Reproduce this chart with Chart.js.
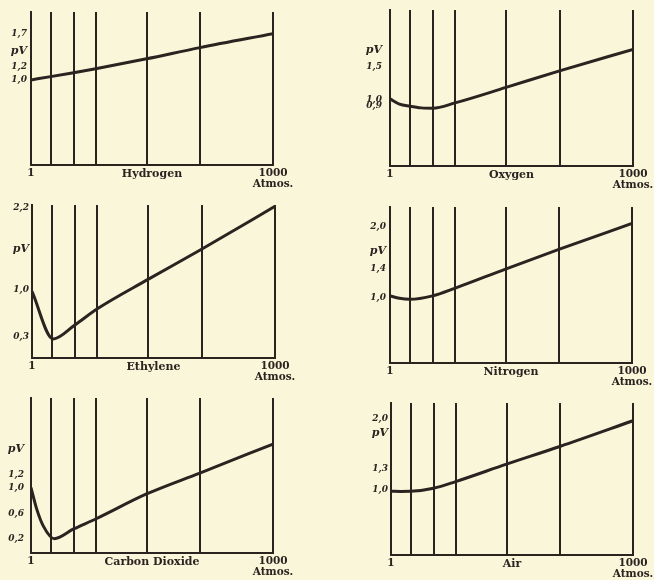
<!DOCTYPE html>
<html>
<head>
<meta charset="utf-8">
<script src="https://cdn.jsdelivr.net/npm/chart.js@4.4.1/dist/chart.umd.min.js"></script>
<style>
  body { margin: 0; background: #faf6da; width: 654px; height: 580px; overflow: hidden; position: relative; }
  canvas { position: absolute; }
</style>
</head>
<body>
<script>
// pressures (atm) where the vertical rules stand
const gridPressures = [1, 82, 177, 268, 478, 698, 1000];

const hydrogenP  = [1, 82, 177, 268, 478, 698, 1000];
const hydrogenPV = [1.00, 1.05, 1.11, 1.17, 1.32, 1.49, 1.70];
const hydrogenTicks = [1.0, 1.2, 1.7];

const oxygenP  = [1, 40, 82, 130, 177, 268, 478, 698, 1000];
const oxygenPV = [1.009, 0.929, 0.898, 0.873, 0.868, 0.948, 1.182, 1.433, 1.758];
const oxygenTicks = [0.9, 1.0, 1.5];

const ethyleneP  = [1, 88, 177, 268, 478, 698, 1000];
const ethylenePV = [0.97, 0.27, 0.475, 0.71, 1.146, 1.59, 2.22];
const ethyleneTicks = [0.3, 1.0, 2.2];

const nitrogenP  = [1, 40, 82, 177, 268, 478, 698, 1000];
const nitrogenPV = [1.02, 0.985, 0.97, 1.02, 1.127, 1.401, 1.68, 2.048];
const nitrogenTicks = [1.0, 1.4, 2.0];

const co2P  = [1, 25, 52, 97, 177, 268, 478, 698, 1000];
const co2PV = [1.00, 0.66, 0.40, 0.205, 0.356, 0.511, 0.90, 1.226, 1.677];
const co2Ticks = [0.2, 0.6, 1.0, 1.2];

const airP  = [1, 40, 82, 177, 268, 478, 698, 1000];
const airPV = [0.98, 0.978, 0.98, 1.024, 1.117, 1.363, 1.612, 1.975];
const airTicks = [1.0, 1.3, 2.0];

const ink = '#2b2320';

const panels = [
  { name: 'Hydrogen', p: hydrogenP, pv: hydrogenPV, ticks: hydrogenTicks, pvAt: 1.43, yMin: -0.29, yMax: 2.03, plot: [31, 12, 273, 165], col: 0, pad: 4 },
  { name: 'Oxygen', p: oxygenP, pv: oxygenPV, ticks: oxygenTicks, pvAt: 1.747, yMin: -0.006, yMax: 2.353, plot: [390, 10, 633, 166], col: 1, pad: 8 },
  { name: 'Ethylene', p: ethyleneP, pv: ethylenePV, ticks: ethyleneTicks, pvAt: 1.59, yMin: -0.01, yMax: 2.24, plot: [32, 205, 275, 358], col: 0, pad: 3 },
  { name: 'Nitrogen', p: nitrogenP, pv: nitrogenPV, ticks: nitrogenTicks, pvAt: 1.65, yMin: 0.065, yMax: 2.283, plot: [390, 207, 632, 363], col: 1, pad: 4 },
  { name: 'Carbon Dioxide', p: co2P, pv: co2PV, ticks: co2Ticks, pvAt: 1.60, yMin: -0.018, yMax: 2.393, plot: [31, 398, 273, 553], col: 0, pad: 7 },
  { name: 'Air', p: airP, pv: airPV, ticks: airTicks, pvAt: 1.80, yMin: 0.081, yMax: 2.226, plot: [391, 403, 633, 555], col: 1, pad: 3 }
];

function makePanel(cfg) {
  const [l, t, r, b] = cfg.plot;
  const cLeft = cfg.col === 0 ? 0 : 330;
  const cRight = cfg.col === 0 ? 300 : 654;
  const cTop = t - 12;
  const cBottom = b + 30;
  const xHeight = 30;

  const canvas = document.createElement('canvas');
  canvas.width = cRight - cLeft;
  canvas.height = cBottom - cTop;
  canvas.style.left = cLeft + 'px';
  canvas.style.top = cTop + 'px';
  document.body.appendChild(canvas);

  new Chart(canvas, {
    type: 'line',
    data: {
      datasets: [{
        data: cfg.p.map((x, i) => ({ x: x, y: cfg.pv[i] })),
        borderColor: ink,
        borderWidth: 3,
        pointRadius: 0,
        cubicInterpolationMode: 'monotone'
      }]
    },
    options: {
      responsive: false,
      animation: false,
      layout: { padding: { left: 0, top: 12, right: cRight - r, bottom: cBottom - b - xHeight } },
      plugins: { legend: { display: false }, tooltip: { enabled: false } },
      scales: {
        x: {
          type: 'linear', min: 1, max: 1000,
          afterBuildTicks: s => { s.ticks = gridPressures.map(v => ({ value: v })); },
          afterFit: s => { s.height = xHeight; s.paddingLeft = 0; s.paddingRight = 0; },
          grid: { color: ink, lineWidth: 2, drawTicks: false },
          border: { color: ink, width: 2 },
          ticks: {
            autoSkip: false, maxRotation: 0, padding: 2, color: ink,
            font: { family: 'DejaVu Serif', weight: 'bold', size: 10.5, lineHeight: 1.1 },
            callback: v => v === 1 ? '1' : (v === 1000 ? ['1000', 'Atmos.'] : '')
          },
          title: {
            display: true, text: cfg.name, color: ink, padding: { top: 0, bottom: 14 },
            font: { family: 'DejaVu Serif', weight: 'bold', size: 11 }
          }
        },
        y: {
          type: 'linear', min: cfg.yMin, max: cfg.yMax,
          afterBuildTicks: s => { s.ticks = cfg.ticks.concat([cfg.pvAt]).map(v => ({ value: v })); },
          afterFit: s => { s.width = l - cLeft; s.paddingTop = 0; s.paddingBottom = 0; },
          grid: { display: false, drawTicks: false },
          border: { color: ink, width: 2 },
          ticks: {
            autoSkip: false, padding: cfg.pad, color: ink,
            font: ctx => ({
              family: 'DejaVu Serif', weight: 'bold', style: 'italic',
              size: ctx.tick && ctx.tick.value === cfg.pvAt ? 11 : 9
            }),
            callback: v => v === cfg.pvAt ? 'pV' : v.toFixed(1).replace('.', ',')
          }
        }
      }
    }
  });
}

panels.forEach(makePanel);
</script>
</body>
</html>
